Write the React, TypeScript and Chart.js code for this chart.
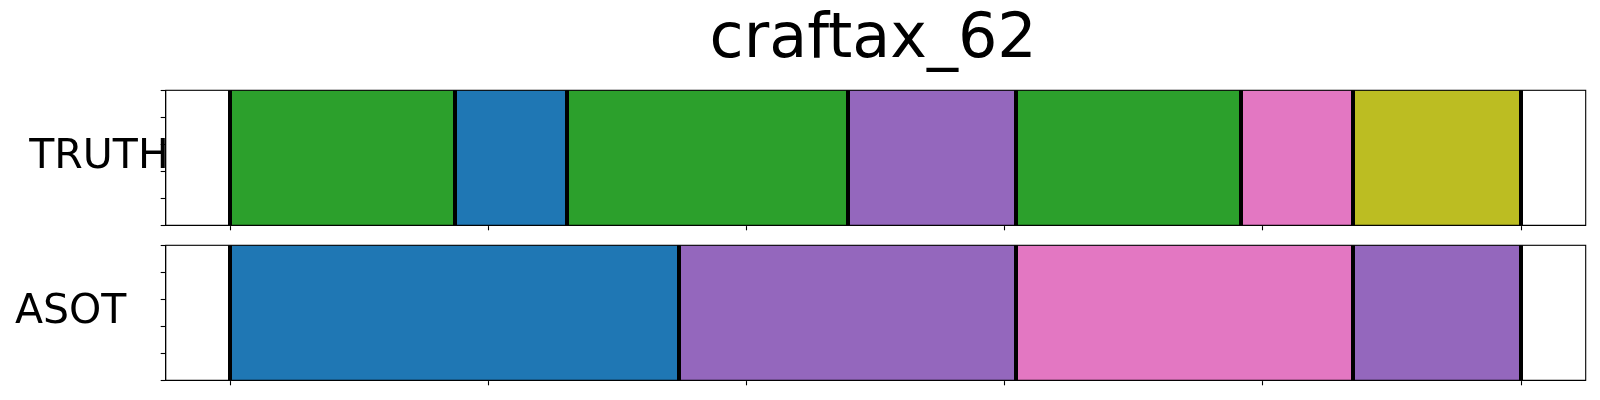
import React, { useEffect, useRef } from "react";
import { Chart, registerables } from "chart.js";

Chart.register(...registerables);

// ---- data ----
const TITLE = "craftax_62";
const truthName = "TRUTH";
const asotName = "ASOT";
const truthBounds = [0, 4, 6, 11, 14, 18, 20, 23];
const truthColors = ["#2ca02c", "#1f77b4", "#2ca02c", "#9467bd", "#2ca02c", "#e377c2", "#bcbd22"];
const asotBounds = [0, 8, 14, 20, 23];
const asotColors = ["#1f77b4", "#9467bd", "#e377c2", "#9467bd"];
const xTicks = [0, 4.6, 9.2, 13.8, 18.4, 23];
const yTicks = [0, 0.25, 0.5, 0.75, 1];
const X_MIN = -1.15;
const X_MAX = 24.15;

const FONT = "'DejaVu Sans', 'Liberation Sans', sans-serif";

type PanelProps = {
  name: string;
  bounds: number[];
  colors: string[];
  showTitle: boolean;
  top: number;
  height: number;
  padding: { left: number; right: number; top: number; bottom: number };
  labelX: number;
};

function Panel(props: PanelProps) {
  const ref = useRef<HTMLCanvasElement | null>(null);
  useEffect(() => {
    const canvas = ref.current;
    if (!canvas) return;
    const { name, bounds, colors, showTitle, padding, labelX } = props;

    const datasets = colors.map((c, i) => ({
      type: "bar" as const,
      label: name + " " + i,
      data: [[bounds[i], bounds[i + 1]]] as any,
      backgroundColor: c,
      borderWidth: 0,
      barPercentage: 1,
      categoryPercentage: 1,
      grouped: false,
      xAxisID: "x",
      yAxisID: "y",
    }));

    const overlay = {
      id: "overlay" + name,
      afterDatasetsDraw(chart: any) {
        const { ctx, chartArea, scales } = chart;
        const h = chartArea.bottom - chartArea.top;
        ctx.save();
        ctx.fillStyle = "#000";
        for (const v of bounds) {
          const px = scales.x.getPixelForValue(v);
          ctx.fillRect(Math.round(px - 2), chartArea.top, 4, h);
        }
        ctx.restore();
      },
      afterDraw(chart: any) {
        const { ctx, chartArea } = chart;
        ctx.save();
        ctx.strokeStyle = "#000";
        ctx.lineWidth = 1.1;
        ctx.strokeRect(
          chartArea.left,
          chartArea.top,
          chartArea.right - chartArea.left,
          chartArea.bottom - chartArea.top
        );
        ctx.fillStyle = "#000";
        ctx.font = "41px " + FONT;
        ctx.textAlign = "left";
        ctx.textBaseline = "alphabetic";
        const mid = (chartArea.top + chartArea.bottom) / 2;
        ctx.fillText(name, labelX, mid + 10.5);
        ctx.restore();
      },
    };

    const chart = new Chart(canvas, {
      type: "bar",
      data: { labels: [name], datasets },
      options: {
        indexAxis: "y",
        animation: false,
        responsive: false,
        events: [],
        layout: { padding },
        plugins: {
          legend: { display: false },
          tooltip: { enabled: false },
          title: {
            display: showTitle,
            text: TITLE,
            color: "#000",
            font: { size: 62, family: FONT, weight: "normal" },
            padding: { top: 3.6, bottom: 12.3 },
          },
        },
        scales: {
          x: {
            type: "linear",
            position: "bottom",
            min: X_MIN,
            max: X_MAX,
            afterBuildTicks: (scale: any) => {
              scale.ticks = xTicks.map((v) => ({ value: v }));
            },
            ticks: { display: false },
            grid: {
              display: true,
              drawOnChartArea: false,
              drawTicks: true,
              tickLength: 5,
              tickWidth: 1.1,
              tickColor: "#000",
              color: "#000",
            },
            border: { display: true, color: "#000", width: 1.1 },
          },
          y: {
            type: "category",
            display: false,
            offset: true,
          },
          yTicks: {
            type: "linear",
            axis: "y",
            position: "left",
            min: 0,
            max: 1,
            afterBuildTicks: (scale: any) => {
              scale.ticks = yTicks.map((v) => ({ value: v }));
            },
            ticks: { display: false },
            grid: {
              display: true,
              drawOnChartArea: false,
              drawTicks: true,
              tickLength: 5,
              tickWidth: 1.1,
              tickColor: "#000",
              color: "#000",
            },
            border: { display: true, color: "#000", width: 1.1 },
          },
        } as any,
      },
      plugins: [overlay],
    } as any);
    return () => chart.destroy();
  }, []);

  return (
    <canvas
      ref={ref}
      width={1600}
      height={props.height}
      style={{ position: "absolute", left: 0, top: props.top, width: 1600, height: props.height }}
    />
  );
}

export default function App() {
  return (
    <div
      style={{
        position: "fixed",
        left: 0,
        top: 0,
        width: 1600,
        height: 400,
        background: "#fff",
        overflow: "hidden",
      }}
    >
      <Panel
        name={truthName}
        bounds={truthBounds}
        colors={truthColors}
        showTitle={true}
        top={0}
        height={240}
        padding={{ left: 160.7, right: 14.3, top: 0, bottom: 9.7 }}
        labelX={29.3}
      />
      <Panel
        name={asotName}
        bounds={asotBounds}
        colors={asotColors}
        showTitle={false}
        top={240}
        height={160}
        padding={{ left: 160.7, right: 14.3, top: 5.3, bottom: 14.7 }}
        labelX={15}
      />
    </div>
  );
}
